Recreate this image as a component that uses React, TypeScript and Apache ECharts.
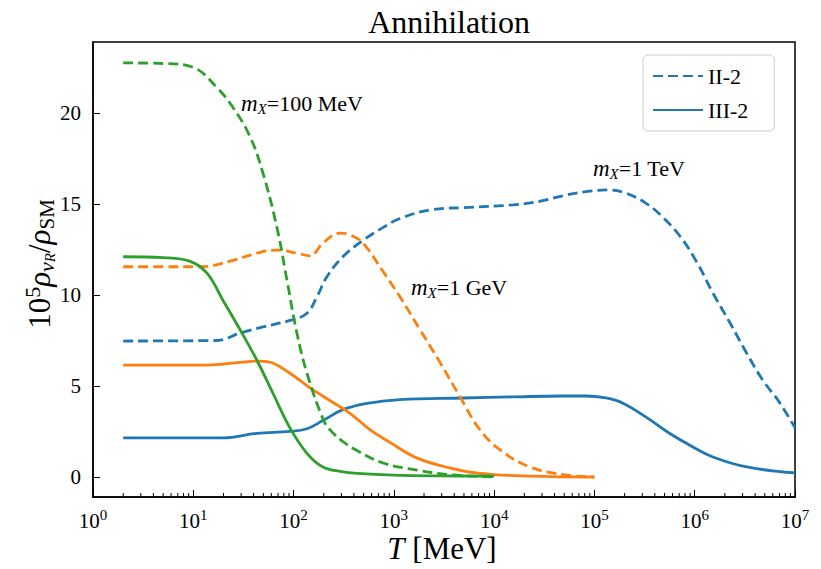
import React, { useEffect, useRef } from "react";
import * as echarts from "echarts";

// ---- data (T in MeV, y = 10^5 rho_nuR / rho_SM) ----
const tGreenDash = [2, 5, 10, 17.2, 24.9, 36.8, 49.5, 68.3, 86, 108, 136, 196, 230, 310, 429, 778, 1690, 3600, 10000];
const vGreenDash = [22.75, 22.72, 22.5, 21.4, 20.3, 18.7, 16.7, 13.7, 10.8, 7.9, 5.7, 3.2, 2.6, 1.95, 1.45, 0.77, 0.38, 0.12, 0.0];

const tGreenSolid = [2, 5, 9.3, 13.7, 19.8, 29.2, 43.2, 62.3, 92, 136, 196, 300, 429, 1000, 3000, 10000];
const vGreenSolid = [12.1, 12.05, 11.85, 11.2, 9.7, 8.1, 6.4, 4.6, 2.7, 1.3, 0.55, 0.3, 0.2, 0.1, 0.06, 0.05];

const tOrangeDash = [2, 5, 11.7, 24.9, 43, 68, 108, 146, 196, 290, 365, 492, 778, 1150, 1820, 2880, 4570, 7200, 11400, 22700, 53200, 100000];
const vOrangeDash = [11.55, 11.55, 11.55, 11.9, 12.3, 12.47, 12.3, 12.15, 12.85, 13.4, 13.3, 12.85, 11.3, 9.9, 8.1, 6.3, 4.4, 2.6, 1.5, 0.55, 0.1, 0.0];

const tOrangeSolid = [2, 13.7, 29.2, 46, 62, 92, 123, 146, 230, 365, 578, 915, 1690, 3600, 7200, 22700, 100000];
const vOrangeSolid = [6.15, 6.15, 6.3, 6.37, 6.26, 5.7, 5.2, 4.9, 4.2, 3.5, 2.6, 1.9, 1.05, 0.5, 0.2, 0.05, 0.0];

const tBlueDash = [2, 17.2, 29, 49.5, 92, 136, 171, 215, 310, 492, 778, 1150, 2450, 4900, 15400, 28600, 48300, 82000, 140000, 205000, 325000, 475000, 720000, 1.05e6, 1.52e6, 2.23e6, 3.3e6, 4.8e6, 7e6, 1e7];
const vBlueDash = [7.47, 7.5, 7.9, 8.25, 8.6, 9.0, 9.9, 11.0, 12.1, 13.0, 13.7, 14.2, 14.7, 14.8, 14.95, 15.15, 15.45, 15.68, 15.77, 15.6, 15.05, 14.3, 13.2, 11.8, 10.1, 8.5, 6.8, 5.3, 4.1, 2.7];

const tBlueSolid = [2, 19.8, 43, 92, 136, 196, 310, 540, 1150, 4900, 15400, 48300, 82000, 130000, 190000, 325000, 560000, 960000, 1.52e6, 3.3e6, 1e7];
const vBlueSolid = [2.15, 2.15, 2.4, 2.5, 2.65, 3.1, 3.7, 4.05, 4.25, 4.34, 4.4, 4.45, 4.45, 4.34, 4.07, 3.3, 2.4, 1.65, 1.1, 0.55, 0.22];

const yTickValues = [0, 5, 10, 15, 20];
const legendNames = ["II-2", "III-2"];

const BLUE = "#1f77b4";
const ORANGE = "#ff7f0e";
const GREEN = "#2ca02c";
const FONT = "Liberation Serif";
const DASH = [10, 5];
const LW = 2.8;

const X_MIN = 1;
const X_MAX = 1e7;
const Y_MIN = -1.1;
const Y_MAX = 23.9;

const zip = (t: number[], v: number[]) => t.map((x, i) => [x, v[i]]);

function minorTicks(): number[][] {
  const out: number[][] = [];
  for (let k = 0; k < 7; k++) {
    for (let m = 2; m <= 9; m++) out.push([m * Math.pow(10, k), Y_MIN]);
  }
  return out;
}

function lineSeries(name: string, t: number[], v: number[], color: string, dashed: boolean) {
  return {
    type: "line",
    name,
    data: zip(t, v),
    symbol: "none",
    smooth: 0.4,
    lineStyle: { color, width: LW, type: dashed ? DASH : "solid" },
    itemStyle: { color },
    silent: true,
    z: 3,
  };
}

export default function App() {
  const ref = useRef<HTMLDivElement>(null);
  useEffect(() => {
    if (!ref.current) return;
    const chart = echarts.init(ref.current, null, { renderer: "svg" });
    const mRich = (color: string) => ({
      m: { fontFamily: FONT, fontStyle: "italic", fontSize: 23, color, lineHeight: 26, verticalAlign: "middle" },
      x: { fontFamily: FONT, fontStyle: "italic", fontSize: 15, color, lineHeight: 14, verticalAlign: "bottom" },
      r: { fontFamily: FONT, fontSize: 22, color, lineHeight: 26, verticalAlign: "middle" },
    });
    const option: any = {
      animation: false,
      backgroundColor: "#ffffff",
      grid: {
        left: 93,
        right: 26,
        top: 42,
        bottom: 72,
        show: true,
        borderColor: "#000",
        borderWidth: 1.5,
        backgroundColor: "transparent",
      },
      title: {
        text: "Annihilation",
        left: 444,
        textAlign: "center",
        top: 1,
        textStyle: { fontFamily: FONT, fontSize: 32, fontWeight: "normal", color: "#000" },
      },
      legend: {
        data: legendNames,
        orient: "vertical",
        left: 643,
        top: 55,
        itemWidth: 50,
        itemHeight: 14,
        itemGap: 12,
        padding: [10, 26, 10, 9],
        borderColor: "#cccccc",
        borderWidth: 1,
        borderRadius: 5,
        backgroundColor: "#ffffff",
        itemStyle: { color: "rgba(0,0,0,0)", borderColor: "rgba(0,0,0,0)", borderWidth: 0 },
        textStyle: { fontFamily: FONT, fontSize: 22, color: "#000" },
      },
      xAxis: {
        type: "log",
        logBase: 10,
        min: X_MIN,
        max: X_MAX,
        axisLine: { show: true, onZero: false, lineStyle: { color: "#000", width: 1.5 } },
        axisTick: { show: true, inside: true, length: 7, lineStyle: { color: "#000", width: 1 } },
        splitLine: { show: false },
        axisLabel: {
          margin: 10,
          formatter: (v: number) => `{b|10}{s|${Math.round(Math.log10(v))}}`,
          rich: {
            b: { fontFamily: FONT, fontSize: 21, color: "#000", lineHeight: 28, verticalAlign: "middle" },
            s: { fontFamily: FONT, fontSize: 15, color: "#000", lineHeight: 14, verticalAlign: "top" },
          },
        },
      },
      yAxis: {
        type: "value",
        min: Y_MIN,
        max: Y_MAX,
        axisLine: { show: true, onZero: false, lineStyle: { color: "#000", width: 1.5 } },
        axisTick: { show: true, inside: true, length: 7, customValues: yTickValues, lineStyle: { color: "#000", width: 1 } },
        splitLine: { show: false },
        axisLabel: {
          customValues: yTickValues,
          margin: 12,
          fontFamily: FONT,
          fontSize: 21,
          color: "#000",
        },
      },
      graphic: [
        {
          type: "text",
          x: 39,
          y: 264,
          rotation: Math.PI / 2,
          style: {
            text: "{a|10}{sup|5}{g|ρ}{gs|ν}{ssub|R}{a|/}{g|ρ}{sub|SM}",
            align: "center",
            verticalAlign: "middle",
            rich: {
              a: { fontFamily: FONT, fontSize: 31, color: "#000", lineHeight: 36, verticalAlign: "middle" },
              g: { fontFamily: FONT, fontStyle: "italic", fontSize: 31, color: "#000", lineHeight: 36, verticalAlign: "middle" },
              sup: { fontFamily: FONT, fontSize: 22, color: "#000", lineHeight: 20, verticalAlign: "top" },
              gs: { fontFamily: FONT, fontStyle: "italic", fontSize: 22, color: "#000", lineHeight: 20, verticalAlign: "bottom" },
              sub: { fontFamily: FONT, fontSize: 21, color: "#000", lineHeight: 20, verticalAlign: "bottom" },
              ssub: { fontFamily: FONT, fontStyle: "italic", fontSize: 15, color: "#000", lineHeight: 10, verticalAlign: "bottom" },
            },
          },
        },
        {
          type: "text",
          x: 442,
          y: 548,
          style: {
            text: "{i|T}{n| [MeV]}",
            align: "center",
            verticalAlign: "middle",
            rich: {
              i: { fontFamily: FONT, fontStyle: "italic", fontSize: 31, color: "#000" },
              n: { fontFamily: FONT, fontSize: 31, color: "#000" },
            },
          },
        },
        {
          type: "text",
          x: 241,
          y: 103,
          style: { text: "{m|m}{x|X}{r|=100 MeV}", align: "left", verticalAlign: "middle", rich: mRich(GREEN) },
        },
        {
          type: "text",
          x: 411,
          y: 287,
          style: { text: "{m|m}{x|X}{r|=1 GeV}", align: "left", verticalAlign: "middle", rich: mRich(ORANGE) },
        },
        {
          type: "text",
          x: 593,
          y: 168,
          style: { text: "{m|m}{x|X}{r|=1 TeV}", align: "left", verticalAlign: "middle", rich: mRich(BLUE) },
        },
      ],
      series: [
        lineSeries("blue-dash", tBlueDash, vBlueDash, BLUE, true),
        lineSeries("blue-solid", tBlueSolid, vBlueSolid, BLUE, false),
        lineSeries("orange-dash", tOrangeDash, vOrangeDash, ORANGE, true),
        lineSeries("orange-solid", tOrangeSolid, vOrangeSolid, ORANGE, false),
        lineSeries("green-dash", tGreenDash, vGreenDash, GREEN, true),
        lineSeries("green-solid", tGreenSolid, vGreenSolid, GREEN, false),
        {
          type: "line",
          name: "II-2",
          data: [],
          symbol: "none",
          lineStyle: { color: BLUE, width: LW, type: DASH },
          itemStyle: { color: BLUE },
        },
        {
          type: "line",
          name: "III-2",
          data: [],
          symbol: "none",
          lineStyle: { color: BLUE, width: LW, type: "solid" },
          itemStyle: { color: BLUE },
        },
        {
          type: "custom",
          name: "minor-ticks",
          data: minorTicks(),
          silent: true,
          clip: false,
          z: 5,
          renderItem: (_p: any, api: any) => {
            const pt = api.coord([api.value(0), api.value(1)]);
            return {
              type: "line",
              shape: { x1: pt[0], y1: pt[1], x2: pt[0], y2: pt[1] - 4 },
              style: { stroke: "#000", lineWidth: 1 },
            };
          },
        },
      ],
    };
    chart.setOption(option);
    return () => chart.dispose();
  }, []);
  return <div ref={ref} style={{ width: 821, height: 569, position: "absolute", left: 0, top: 0 }} />;
}
